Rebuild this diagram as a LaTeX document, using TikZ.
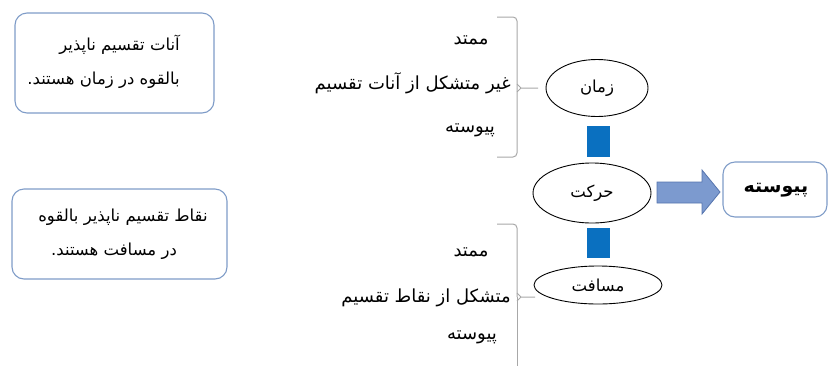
\documentclass[tikz,border=0pt]{standalone}
\usepackage{fontspec}
\TeXXeTstate=1
\newfontfamily\arabicfont[Script=Arabic]{DejaVu Sans}
\newcommand{\faText}[1]{\beginR #1\endR}
\usetikzlibrary{shapes.geometric,shapes.arrows}
\definecolor{boxline}{HTML}{7F9CC8}
\definecolor{barblue}{HTML}{0A70C0}
\definecolor{arrfill}{HTML}{7C9ACF}
\definecolor{arrline}{HTML}{5675AE}
\definecolor{bracegray}{HTML}{A8A8A8}
\tikzset{
  notebox/.style={draw=boxline, line width=1.1pt, rounded corners=12pt, fill=white},
  ovalnode/.style={draw=black, line width=0.9pt, ellipse, inner sep=0pt},
  bar/.style={fill=barblue, draw=none},
  bracestyle/.style={draw=bracegray, line width=1pt, rounded corners=4pt},
  lbl/.style={font=\arabicfont\fontsize{16.5}{19}\selectfont, inner sep=0pt},
  bracelbl/.style={font=\arabicfont\fontsize{18}{21}\selectfont, inner sep=0pt},
}
\begin{document}
\begin{tikzpicture}[x=1pt,y=-1pt]
\useasboundingbox (0,0) rectangle (832,365);
% left boxes
\draw[notebox] (15,13) rectangle (214,113);
\node[lbl, anchor=east] (t1a) at (180,45) {\faText{آنات تقسیم ناپذیر}};
\node[lbl, anchor=east] (t1b) at (180,80) {\faText{بالقوه در زمان هستند.}};
\draw[notebox] (12,189) rectangle (227,279);
\node[lbl] (t2a) at (123,217) {\faText{نقاط تقسیم ناپذیر بالقوه}};
\node[lbl] (t2b) at (114,251) {\faText{در مسافت هستند.}};
% ellipses
\node[ovalnode, minimum width=102pt, minimum height=57pt] (zaman) at (597,88) {};
\node[lbl] at (zaman.center) {\faText{زمان}};
\node[ovalnode, minimum width=118pt, minimum height=60pt] (harekat) at (592,193) {};
\node[lbl] at (harekat.center) {\faText{حرکت}};
\node[ovalnode, minimum width=128pt, minimum height=38pt] (masafat) at (598,285) {};
\node[lbl] at (masafat.center) {\faText{مسافت}};
% blue bars
\fill[bar] (587,126) rectangle (610,157);
\fill[bar] (587,228) rectangle (610,258);
% block arrow
\draw[arrline, fill=arrfill, line width=0.8pt, line join=miter]
  (657,182) -- (702,182) -- (702,170) -- (720,192) -- (702,214) -- (702,203) -- (657,203) -- cycle;
% right box
\draw[notebox] (723,162) rectangle (827,217);
\node[font=\arabicfont\bfseries\fontsize{19}{22}\selectfont, inner sep=0pt] (peyvaste) at (776,190) {\faText{پیوسته}};
% top brace
\coordinate (tb) at (538,88);
\draw[bracestyle] (497,17) -- (517,17) -- (517,88);
\draw[bracestyle] (497,157) -- (517,157) -- (517,88);
\draw[draw=bracegray, line width=1pt] (517,84) -- (521,88) -- (tb) (517,92) -- (521,88);
% lower brace
\coordinate (lb) at (535,297);
\draw[bracestyle] (497,224) -- (517,224) -- (517,297);
\draw[draw=bracegray, line width=1pt] (517,297) -- (517,370);
\draw[draw=bracegray, line width=1pt] (517,293) -- (521,297) -- (lb) (517,301) -- (521,297);
% top texts
\node[bracelbl] (a1) at (471,40) {\faText{ممتد}};
\node[bracelbl, anchor=east] (a2) at (511,83) {\faText{غیر متشکل از آنات تقسیم}};
\node[bracelbl] (a3) at (470,130) {\faText{پیوسته}};
% lower texts
\node[bracelbl] (b1) at (471,252) {\faText{ممتد}};
\node[bracelbl, anchor=east] (b2) at (511,298) {\faText{متشکل از نقاط تقسیم}};
\node[bracelbl] (b3) at (472,337) {\faText{پیوسته}};
\end{tikzpicture}
\end{document}
